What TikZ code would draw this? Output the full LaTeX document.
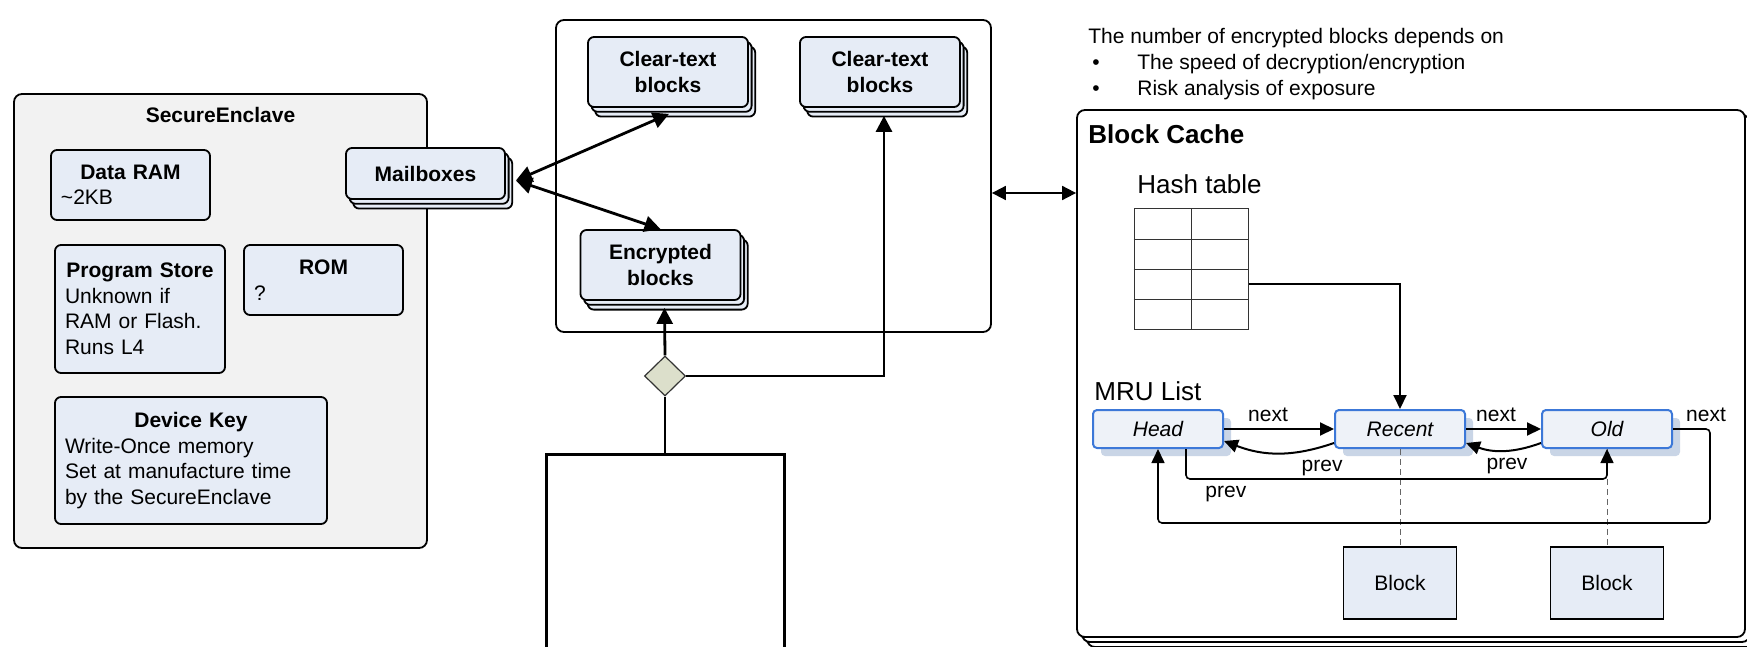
\documentclass[tikz,border=0pt]{standalone}
\usepackage{fontspec}
\setmainfont{Liberation Sans}
\usetikzlibrary{arrows.meta,shadows,shapes.geometric}
\definecolor{boxblue}{HTML}{E6ECF6}
\definecolor{enclgray}{HTML}{F2F2F2}
\definecolor{listblue}{HTML}{EEF2F8}
\definecolor{listedge}{HTML}{3C78D8}
\definecolor{listshade}{HTML}{C9D5E6}
\definecolor{gatefill}{HTML}{DCDFCB}

\begin{document}
\begin{tikzpicture}[x=0.5pt,y=-0.5pt,
    memo/.style={draw,fill=boxblue,rounded corners=3pt,line width=0.9pt,inner xsep=5pt,font=\fontsize{10.5}{12.75}\selectfont},
    stack/.style={memo,align=center,font=\fontsize{10.5}{12.75}\selectfont\bfseries,
      copy shadow={shadow xshift=3.6pt,shadow yshift=-4.8pt,fill=boxblue,draw=black},
      copy shadow={shadow xshift=1.8pt,shadow yshift=-2.4pt,fill=boxblue,draw=black}},
    panel/.style={draw,rounded corners=4pt,line width=0.9pt},
    wire/.style={line width=1.4pt,>={Triangle[length=8pt,width=8pt]}},
    sync/.style={line width=0.9pt,>={Triangle[length=7pt,width=7pt]}},
    gate/.style={diamond,draw=black!80,fill=gatefill,line width=0.6pt,minimum width=20.5pt,minimum height=20pt,inner sep=0pt},
    note/.style={font=\fontsize{10.5}{13}\selectfont,inner sep=0pt},
    heading/.style={font=\fontsize{13}{15}\selectfont,inner sep=0pt},
    entry/.style={draw=listedge,fill=listblue,line width=1pt,rounded corners=2pt,minimum width=65pt,minimum height=19pt,
      font=\itshape\fontsize{10.5}{12}\selectfont,
      copy shadow={shadow xshift=4pt,shadow yshift=-4pt,fill=listshade,draw=none}},
    cell/.style={draw,fill=boxblue,line width=0.9pt,minimum width=56.5pt,minimum height=36pt,font=\fontsize{10.5}{12}\selectfont},
    tag/.style={font=\fontsize{10.5}{12}\selectfont},
    link/.style={line width=1pt,>={Triangle[length=7pt,width=6.5pt]}},
    backlink/.style={line width=0.8pt,rounded corners=2pt,>={Triangle[length=7pt,width=6.5pt]}},
    tether/.style={draw=black!60,line width=0.5pt,dash pattern=on 3pt off 2pt}]
  \path[use as bounding box,fill=white] (0,0) rectangle (1747,647);

  \node[panel,fill=enclgray,minimum width=206.5pt,minimum height=227pt] (enclave) at (220.5,321) {};
  \node[font=\fontsize{10.5}{12}\selectfont\bfseries,anchor=base] (enclavetitle) at (220.5,123) {SecureEnclave};
  \node[memo,text width=69.5pt,minimum height=35pt] (dataram) at (130.5,185) {\centering\textbf{Data RAM}\par\raggedright\textasciitilde 2KB};
  \node[memo,text width=75pt,minimum height=64pt] (progstore) at (140,309) {\centering\textbf{Program Store}\par\raggedright Unknown if\\RAM or Flash.\\Runs L4};
  \node[memo,text width=69.5pt,minimum height=35pt] (rom) at (323.5,280) {\centering\textbf{ROM}\par\raggedright ?};
  \node[memo,text width=126pt,minimum height=63.5pt] (devkey) at (191,460.5) {\centering\textbf{Device Key}\par\raggedright Write-Once memory\\Set at manufacture time\\by the SecureEnclave};
  \node[stack,minimum width=79.5pt,minimum height=25.5pt] (mailbox) at (425.5,173.5) {Mailboxes};

  \node[panel,fill=white,minimum width=217.5pt,minimum height=156pt] (pool) at (773.5,176) {};
  \node[stack,minimum width=80pt,minimum height=35pt] (clearA) at (668,72) {Clear-text\\blocks};
  \node[stack,minimum width=80pt,minimum height=35pt] (clearB) at (880,72) {Clear-text\\blocks};
  \node[stack,minimum width=80pt,minimum height=35pt] (crypt) at (660.5,265) {Encrypted\\blocks};
  \node[gate] (switch) at (665,376) {};
  \node[draw,line width=1.5pt,minimum width=119pt,minimum height=110pt,anchor=north] (host) at (665,453) {};

  \coordinate (mailport) at ([shift={(10,7)}]mailbox.east);
  \draw[wire,<->] (mailport) -- ([shift={(1,6)}]clearA.south);
  \draw[wire,<->] (mailport) -- (crypt.north);
  \draw[wire,->] (switch.north) -- ([shift={(4,7)}]crypt.south);
  \draw[wire,->] (switch.east) -| ([shift={(4,8)}]clearB.south);
  \draw[wire] (host.north) -- (switch.south);

  \node[note,anchor=base west] (notehead) at (1088,44) {The number of encrypted blocks depends on};
  \node[note,anchor=base west] (notespeed) at (1092,70) {\makebox[22.5pt][l]{\textbullet}The speed of decryption/encryption};
  \node[note,anchor=base west] (noterisk) at (1092,96) {\makebox[22.5pt][l]{\textbullet}Risk analysis of exposure};

  \node[panel,fill=white,minimum width=334pt,minimum height=263.5pt,
    copy shadow={shadow xshift=5pt,shadow yshift=-5pt,fill=white,draw=black},
    copy shadow={shadow xshift=2.5pt,shadow yshift=-2.5pt,fill=white,draw=black}] (cache) at (1411,373.5) {};
  \draw[sync,<->] (pool.east |- 0,193) -- (cache.west |- 0,193);
  \node[font=\fontsize{13}{15}\selectfont\bfseries,anchor=base west,inner sep=0pt] (cachetitle) at (1088,144) {Block Cache};
  \node[heading,anchor=base west] (hashtitle) at (1137,193) {Hash table};
  \node[draw=black!80,line width=0.5pt,minimum width=57pt,minimum height=60pt,inner sep=0pt] (hash) at (1191,269) {};
  \foreach \row in {239,269,299}
    \draw[black!80,line width=0.5pt] (hash.west |- 0,\row) -- (hash.east |- 0,\row);
  \draw[black!80,line width=0.5pt] (hash.north) -- (hash.south);

  \node[heading,anchor=base west] (mrutitle) at (1094,400) {MRU List};
  \node[entry] (head) at (1158,429) {Head};
  \node[entry] (recent) at (1400,429) {Recent};
  \node[entry] (old) at (1607,429) {Old};
  \node[cell] (blockA) at (1400,583) {Block};
  \node[cell] (blockB) at (1607,583) {Block};

  \draw[tether] (recent.south) -- (blockA.north);
  \draw[tether] (old.south) -- (blockB.north);
  \draw[link,->] (hash.east |- 0,284) -| (recent.north);
  \draw[link,->] (head.east) -- node[tag,above,pos=0.4] (nextA) {next} (recent.west);
  \draw[link,->] (recent.east) -- node[tag,above,pos=0.4] (nextB) {next} (old.west);
  \draw[link,->] ([yshift=-7pt]recent.west) to[bend left=20] node[tag,below,pos=0.1,yshift=-3pt] (prevA) {prev} ([yshift=-6pt]head.east);
  \draw[link,->] ([yshift=-7pt]old.west) to[bend left=20] node[tag,below,pos=0.45] (prevB) {prev} ([yshift=-7pt]recent.east);
  \draw[backlink,->] ([xshift=14pt]head.south) -- ++(0,30) node[tag,below right,xshift=6pt] (prevC) {prev} -| (old.south);
  \draw[backlink,->] (old.east) -- ++(37,0) node[tag,above,xshift=-2pt] (nextC) {next} -- ++(0,94) -| (head.south);
\end{tikzpicture}
\end{document}
